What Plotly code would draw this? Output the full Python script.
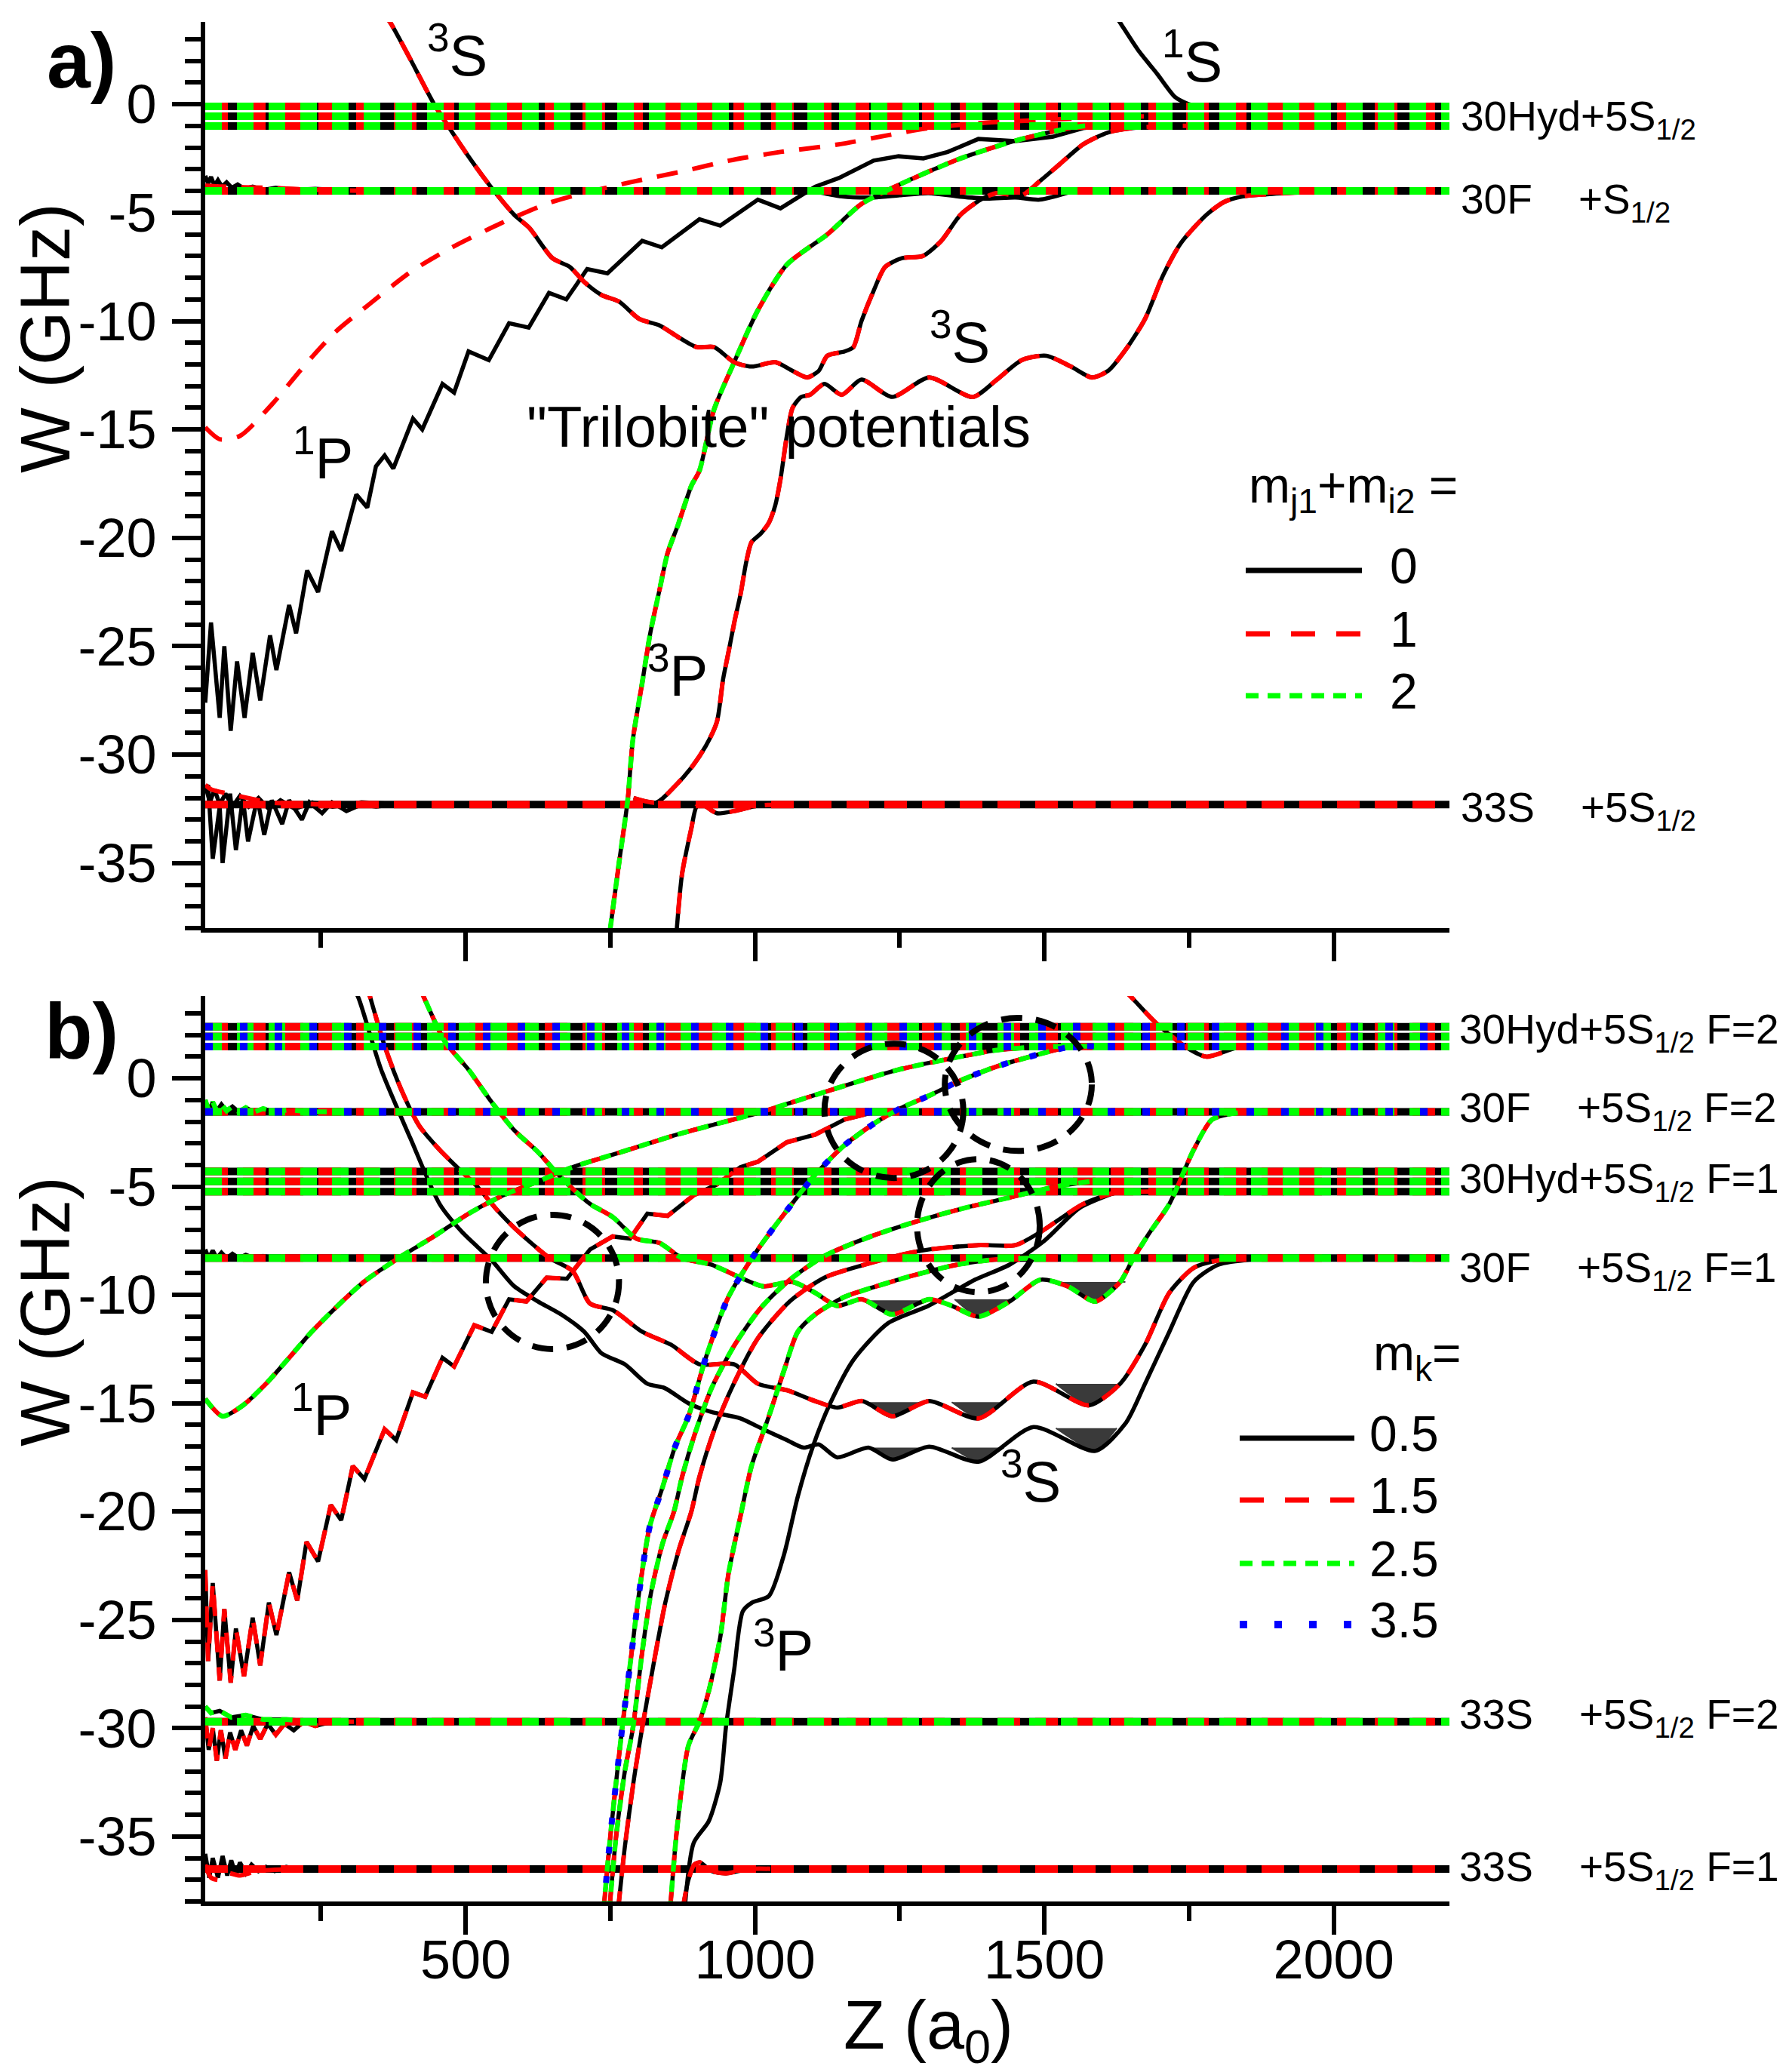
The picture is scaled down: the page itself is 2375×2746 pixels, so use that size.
import plotly.graph_objects as go

# ------------------------------------------------------------------ data
z_range = [50, 2200]
w_range = [-38, 3.8]
z_ticks = [500, 1000, 1500, 2000]
z_tick_text = ["500", "1000", "1500", "2000"]
w_ticks = [-35, -30, -25, -20, -15, -10, -5, 0]
w_tick_text = ["-35", "-30", "-25", "-20", "-15", "-10", "-5", "0"]

a_m_values = [0, 1, 2]                # m_j1 + m_i2
b_m_values = [0.5, 1.5, 2.5, 3.5]     # m_k

# ---- panel a : asymptotic levels
a_levels = [-0.1, -0.55, -1.0, -4.0, -32.3]
a_levels_m = [[0, 1, 2], [0, 1, 2], [0, 1, 2], [0, 1, 2], [0, 1]]
a_state_text = ["30Hyd+5S<sub>1/2</sub>", "30F\u00a0\u00a0\u00a0\u00a0+S<sub>1/2</sub>",
                "33S\u00a0\u00a0\u00a0\u00a0+5S<sub>1/2</sub>"]

# ---- panel a : potential curves
a_3S_z = [355, 370, 405, 445, 475, 510, 545, 584, 610, 650, 680, 705, 735, 765, 800, 835, 865,
          899, 929, 964, 994, 1035, 1065, 1090, 1110, 1125, 1155, 1170, 1184, 1205, 1225, 1254,
          1290, 1322, 1355, 1390, 1417, 1461, 1492, 1525, 1567, 1610, 1652, 1726, 1800]
a_3S_w = [4.3, 3.76, 2.05, 0.03, -1.22, -2.6, -3.86, -5.1, -5.7, -7.1, -7.5, -8.2, -8.8, -9.1,
          -9.9, -10.2, -10.7, -11.2, -11.2, -11.9, -12.1, -11.9, -12.3, -12.6, -12.3, -11.6,
          -11.4, -11.2, -10.0, -8.6, -7.5, -7.1, -7.0, -6.3, -5.1, -4.4, -4.1, -4.2, -3.55, -2.8,
          -1.85, -1.3, -1.1, -1.0, -1.0]
a_3S_m = [0, 1]

a_1P_z = [50, 60, 75, 83, 94, 105, 118, 132, 145, 162, 173, 195, 207, 226, 245, 269, 285, 311,
          330, 345, 360, 375, 409, 425, 460, 480, 505, 540, 575, 609, 644, 674, 710, 745, 805,
          839, 904, 940, 1005, 1044, 1104, 1145, 1205, 1248, 1291, 1333, 1386, 1450, 1514, 1567,
          1620, 1680]
a_1P_w = [-27.6, -23.9, -28.3, -25.0, -28.9, -25.7, -28.3, -25.3, -27.5, -24.5, -26.1, -23.1,
          -24.4, -21.5, -22.5, -19.7, -20.6, -18.0, -18.6, -16.7, -16.2, -16.8, -14.5, -15.0,
          -12.9, -13.3, -11.4, -11.8, -10.1, -10.3, -8.7, -9.0, -7.6, -7.8, -6.3, -6.6, -5.3,
          -5.6, -4.4, -4.8, -3.8, -3.4, -2.6, -2.4, -2.5, -2.2, -1.6, -1.7, -1.5, -1.1, -0.95,
          -1.0]
a_1P_m = [0]

a_free_z = [50, 75, 110, 165, 220, 275, 335, 405, 475, 560, 644, 704, 784, 874, 955, 1044, 1145,
            1225, 1300, 1400, 1500, 1600, 1700]
a_free_w = [-14.9, -15.45, -15.3, -13.85, -12.1, -10.5, -9.19, -7.73, -6.62, -5.5, -4.55, -4.1,
            -3.6, -3.1, -2.6, -2.2, -1.85, -1.45, -1.1, -0.85, -0.72, -0.6, -0.55]
a_free_m = [1]

a_3P_z = [745, 750, 765, 780, 789, 805, 819, 835, 849, 867, 890, 904, 929, 964, 1005, 1055, 1125,
          1184, 1250, 1355, 1461, 1567, 1620]
a_3P_w = [-39, -38, -35.0, -32.1, -29.3, -26.7, -24.4, -22.4, -20.7, -19.4, -17.6, -16.9, -14.1,
          -11.9, -9.5, -7.4, -6.0, -4.6, -3.7, -2.5, -1.6, -1.0, -1.0]
a_3P_m = [0, 1, 2]

a_3Plow_z = [862, 874, 890, 899, 909, 934, 964, 1005, 1050]
a_3Plow_w = [-39, -35.5, -33.4, -32.4, -32.3, -32.7, -32.6, -32.35, -32.3]
a_3Plow_m = [0, 1]

a_low_z = [790, 830, 860, 890, 915, 934, 945, 954, 965, 975, 985, 994, 1010, 1024, 1035, 1044,
           1055, 1065, 1080, 1095, 1120, 1150, 1184, 1237, 1301, 1376, 1418, 1461, 1503, 1546,
           1582, 1610, 1641, 1674, 1705, 1736, 1780, 1811, 1843, 1885, 1950]
a_low_w = [-32.0, -32.2, -31.5, -30.6, -29.6, -28.5, -26.5, -25.3, -23.8, -22.6, -21.1, -20.2,
           -19.8, -19.3, -18.5, -17.3, -15.3, -14.0, -13.5, -13.4, -12.9, -13.4, -12.7, -13.5,
           -12.6, -13.5, -12.7, -11.8, -11.6, -12.1, -12.6, -12.3, -11.3, -9.9, -7.9, -6.4,
           -5.1, -4.5, -4.25, -4.15, -4.05]
a_low_m = [0, 1]

a_1S_z = [1620, 1631, 1662, 1695, 1726, 1747, 1765]
a_1S_w = [4.2, 3.76, 2.5, 1.4, 0.33, 0.03, -0.1]
a_1S_m = [0]

a_33Sosc_z = [50, 55, 63, 75, 80, 93, 103, 115, 124, 140, 152, 165, 183, 195, 217, 230, 252, 269,
              294, 320, 345, 380, 420]
a_33Sosc_w = [-31.6, -31.4, -34.8, -32.4, -35.0, -31.8, -34.4, -32.0, -34.0, -32.0, -33.7,
              -32.1, -33.2, -32.1, -33.0, -32.2, -32.7, -32.2, -32.6, -32.3, -32.4, -32.3, -32.3]
a_33Sosc_m = [0]

a_33Sup_z = [50, 58, 66, 75, 85, 97, 110, 125, 142, 160, 180, 205, 235, 270, 320, 400]
a_33Sup_w = [-31.4, -32.2, -31.6, -32.3, -31.8, -32.4, -31.9, -32.4, -32.0, -32.5, -32.1, -32.5,
             -32.2, -32.4, -32.2, -32.3]
a_33Sup_m = [0]

a_33Sred_z = [50, 60, 90, 124, 160, 205, 260]
a_33Sred_w = [-31.4, -31.6, -31.8, -32.0, -32.2, -32.25, -32.3]
a_33Sred_m = [1]

a_30Fosc_z = [50, 55, 60, 66, 72, 79, 87, 96, 106, 118, 132, 150, 172, 200, 240, 300, 380, 480, 560]
a_30Fosc_w = [-3.3, -3.65, -3.35, -3.75, -3.5, -3.8, -3.6, -3.85, -3.7, -3.9, -3.8, -3.95, -3.85,
              -3.95, -3.9, -3.98, -3.92, -3.97, -4.0]
a_30Fosc_m = [0]

a_30Fred_z = [50, 80, 150, 250, 350]
a_30Fred_w = [-3.75, -3.8, -3.85, -3.95, -4.0]
a_30Fred_m = [1]

a_30Fdip_z = [1100, 1150, 1206, 1250, 1300, 1350, 1400, 1450, 1492, 1550]
a_30Fdip_w = [-4.0, -4.25, -4.3, -4.2, -4.1, -4.25, -4.35, -4.3, -4.4, -4.0]
a_30Fdip_m = [0]

# ---- panel b : asymptotic levels
b_levels = [2.38, 1.93, 1.47, -1.55, -4.30, -4.76, -5.23, -8.3, -29.7, -36.5]
b_levels_m = [[0.5, 1.5, 2.5, 3.5]] * 4 + [[0.5, 1.5, 2.5]] * 5 + [[0.5, 1.5]]
b_state_text = ["30Hyd+5S<sub>1/2</sub> F=2", "30F\u00a0\u00a0\u00a0\u00a0+5S<sub>1/2</sub> F=2",
                "30Hyd+5S<sub>1/2</sub> F=1", "30F\u00a0\u00a0\u00a0\u00a0+5S<sub>1/2</sub> F=1",
                "33S\u00a0\u00a0\u00a0\u00a0+5S<sub>1/2</sub> F=2",
                "33S\u00a0\u00a0\u00a0\u00a0+5S<sub>1/2</sub> F=1"]

# ---- panel b : potential curves
b_broad_z = [50, 80, 115, 155, 195, 234, 275, 324, 384, 445, 505, 565, 625, 685, 745, 805, 865,
             934, 1005, 1065, 1124, 1184, 1248, 1355, 1418, 1500, 1560]
b_broad_w = [-14.8, -15.6, -15.1, -14.1, -12.9, -11.7, -10.6, -9.4, -8.3, -7.3, -6.25, -5.4,
             -4.76, -4.1, -3.6, -3.1, -2.6, -2.1, -1.6, -1.1, -0.6, -0.1, 0.4, 1.0, 1.3, 1.47, 1.47]
b_broad_m = [0.5, 1.5, 2.5]

b_desc_z = [415, 425, 464, 505, 545, 584, 625, 655, 685, 715, 754, 795, 835, 874, 924, 975, 1014,
            1065, 1104, 1142, 1185, 1237, 1301, 1340, 1386, 1440, 1493, 1540, 1588, 1631, 1652,
            1680, 1716, 1758, 1790, 1832, 1880]
b_desc_w = [4.4, 3.9, 1.7, 0.4, -1.1, -2.4, -3.4, -4.3, -5.1, -5.8, -6.4, -7.4, -7.6, -8.3, -8.6,
            -9.2, -9.6, -9.4, -9.9, -10.5, -10.2, -10.9, -10.2, -10.5, -11.0, -10.3, -9.3, -9.6,
            -10.3, -9.4, -8.4, -7.2, -5.8, -3.3, -1.9, -1.6, -1.55]
b_desc_m = [0.5, 1.5, 2.5]

b_low_z = [300, 315, 354, 405, 455, 494, 545, 584, 625, 665, 705, 735, 775, 814, 844, 885, 924,
           975, 1014, 1055, 1084, 1110, 1142, 1196, 1237, 1301, 1386, 1481, 1588, 1641, 1674,
           1716, 1758, 1801, 1864, 1920]
b_low_w = [4.5, 3.7, 0.4, -2.8, -5.8, -7.1, -8.4, -9.6, -10.3, -10.9, -11.7, -12.7, -13.2, -14.1,
           -14.3, -15.0, -15.4, -15.7, -16.2, -16.7, -17.05, -16.9, -17.5, -17.05, -17.6, -17.0,
           -17.7, -16.1, -17.2, -15.9, -14.1, -11.7, -9.4, -8.6, -8.35, -8.3]
b_low_m = [0.5]

b_mid_z = [325, 330, 360, 390, 420, 455, 485, 520, 555, 584, 645, 685, 715, 754, 805, 855, 904,
           964, 1005, 1055, 1104, 1142, 1185, 1237, 1301, 1386, 1481, 1577, 1631, 1674, 1716,
           1758, 1801, 1850]
b_mid_w = [4.6, 4.2, 1.5, -0.6, -2.2, -3.3, -4.1, -5.0, -6.1, -6.9, -8.3, -8.9, -10.4, -10.7,
           -11.7, -12.3, -13.2, -13.2, -14.1, -14.4, -14.9, -15.2, -14.9, -15.6, -14.9, -15.7,
           -14.0, -15.1, -14.1, -12.3, -9.9, -8.75, -8.4, -8.3]
b_mid_m = [0.5, 1.5]

b_1P_z = [50, 55, 63, 75, 83, 94, 103, 117, 132, 145, 160, 173, 195, 209, 225, 245, 267, 285, 305,
          325, 360, 380, 409, 430, 460, 480, 515, 545, 575, 605, 640, 675, 715, 754, 784, 814,
          849, 894, 934, 975, 1005, 1055, 1104, 1155, 1200, 1250]
b_1P_w = [-22.7, -26.9, -23.3, -27.8, -24.5, -27.9, -25.4, -27.6, -24.9, -27.1, -24.2, -25.7,
          -22.8, -24.1, -21.4, -22.3, -19.7, -20.4, -17.9, -18.5, -16.2, -16.7, -14.5, -14.7,
          -12.9, -13.3, -11.4, -11.7, -10.2, -10.3, -9.2, -9.25, -7.9, -7.3, -7.4, -6.25, -6.35,
          -5.4, -4.9, -4.1, -3.85, -2.95, -2.6, -1.9, -1.6, -1.55]
b_1P_m = [0.5, 1.5]

b_P1_z = [738, 750, 770, 785, 800, 818, 840, 862, 885, 915, 954, 1005, 1055, 1104, 1154, 1205,
          1250, 1301, 1355, 1418, 1481, 1546, 1600]
b_P1_w = [-38.5, -35.0, -30.1, -26.9, -23.7, -20.7, -18.9, -17.0, -15.6, -12.9, -10.1, -7.9, -6.1,
          -4.45, -3.1, -2.1, -1.4, -0.8, -0.1, 0.55, 1.04, 1.46, 1.47]
b_P1_m = [0.5, 1.5, 2.5, 3.5]

b_P2_z = [748, 760, 775, 789, 805, 820, 840, 860, 874, 895, 925, 965, 1010, 1060, 1120, 1200,
          1280, 1360, 1440, 1520, 1580]
b_P2_w = [-38.5, -35.0, -32.0, -30.0, -26.5, -23.8, -21.5, -20.0, -18.4, -16.5, -14.3, -12.3,
          -10.6, -9.3, -8.2, -7.3, -6.6, -6.0, -5.5, -5.0, -4.76]
b_P2_m = [0.5, 1.5, 2.5]

b_P3_z = [763, 775, 790, 805, 825, 845, 868, 890, 904, 930, 965, 1005, 1060, 1120, 1190, 1260,
          1301, 1386, 1450, 1493, 1567, 1620, 1680]
b_P3_w = [-38.5, -35.5, -32.5, -30.0, -27.0, -24.2, -21.8, -20.0, -18.4, -16.2, -14.0, -12.0,
          -10.3, -9.2, -8.6, -8.1, -7.9, -7.7, -7.7, -7.1, -5.8, -5.3, -5.23]
b_P3_m = [0.5, 1.5]

b_P4_z = [853, 865, 885, 904, 920, 940, 954, 975, 994, 1024, 1050, 1074, 1104, 1154, 1210, 1273,
          1350, 1420, 1480]
b_P4_w = [-38.5, -34.7, -30.8, -29.7, -28.3, -25.8, -22.9, -20.2, -17.9, -15.6, -13.5, -11.7,
          -10.9, -10.1, -9.6, -9.1, -8.6, -8.35, -8.3]
b_P4_m = [0.5, 1.5, 2.5]

b_P6_z = [878, 894, 920, 940, 950, 964, 979, 995, 1024, 1050, 1074, 1100, 1130, 1170, 1230, 1300,
          1380, 1440, 1500, 1560, 1620]
b_P6_w = [-38.5, -35.3, -34.3, -32.5, -29.9, -27.3, -24.6, -24.2, -23.9, -22.0, -19.3, -17.0,
          -15.0, -13.0, -11.3, -10.5, -9.3, -8.6, -7.5, -6.0, -5.3]
b_P6_m = [0.5]

b_join_z = [874, 885, 895, 905, 925, 950, 990, 1040]
b_join_w = [-38.5, -37.0, -36.3, -36.2, -36.6, -36.7, -36.5, -36.5]
b_join_m = [0.5, 1.5]

b_1S_z = [1630, 1652, 1695, 1747, 1780, 1832, 1885, 1940]
b_1S_w = [4.3, 3.7, 2.5, 1.4, 1.0, 1.4, 1.5, 1.47]
b_1S_m = [0.5, 1.5]

b_30F2osc_z = [50, 56, 63, 70, 78, 87, 97, 108, 120, 135, 150, 170, 195, 230, 280]
b_30F2osc_w = [-1.0, -1.5, -1.1, -1.5, -1.2, -1.5, -1.3, -1.55, -1.35, -1.55, -1.4, -1.55, -1.45,
               -1.55, -1.55]
b_30F2osc_m = [0.5, 2.5]

b_30F1osc_z = [50, 56, 63, 70, 78, 87, 97, 108, 120, 135, 150, 170, 200]
b_30F1osc_w = [-7.9, -8.3, -7.95, -8.3, -8.05, -8.3, -8.1, -8.3, -8.15, -8.3, -8.2, -8.3, -8.3]
b_30F1osc_m = [0.5]

b_33S2osc_z = [50, 56, 63, 70, 77, 85, 93, 102, 112, 122, 133, 145, 158, 172, 187, 203, 220, 240,
               270, 320]
b_33S2osc_w = [-29.5, -31.0, -30.0, -31.5, -30.1, -31.4, -30.2, -31.0, -30.1, -30.8, -29.9,
               -30.5, -29.8, -30.3, -29.8, -30.1, -29.7, -29.9, -29.7, -29.7]
b_33S2osc_m = [0.5, 1.5]

b_33S2up_z = [50, 60, 75, 95, 120, 150, 190, 240]
b_33S2up_w = [-29.0, -29.3, -29.2, -29.5, -29.4, -29.6, -29.6, -29.7]
b_33S2up_m = [0.5, 2.5]

b_33S1osc_z = [50, 57, 63, 72, 80, 88, 95, 103, 110, 120, 130, 142, 155, 170, 190, 215, 250, 300]
b_33S1osc_w = [-35.8, -36.9, -36.0, -36.9, -35.9, -36.8, -36.1, -36.8, -36.2, -36.7, -36.3,
               -36.6, -36.4, -36.6, -36.4, -36.55, -36.45, -36.5]
b_33S1osc_m = [0.5]

b_33S1red_z = [50, 60, 75, 90, 110, 140, 200]
b_33S1red_w = [-36.3, -36.9, -37.0, -36.7, -36.8, -36.6, -36.5]
b_33S1red_m = [1.5]

# shaded bound-state regions inside the 3S wells (panel b)
b_well_curve = ["desc", "desc", "desc", "mid", "mid", "mid", "low", "low", "low"]
b_well_z0 = [1190, 1345, 1530, 1190, 1340, 1520, 1190, 1340, 1520]
b_well_z1 = [1290, 1440, 1640, 1285, 1432, 1630, 1290, 1430, 1625]
b_well_top = [-10.25, -10.2, -9.4, -14.95, -14.95, -14.1, -17.05, -17.05, -16.15]

# dashed rings marking avoided crossings (panel b)
b_ring_z = [650, 1240, 1455, 1386]
b_ring_w = [-9.4, -1.5, -0.28, -6.8]
b_ring_dz = [115, 120, 127, 106]
b_ring_dw = [3.1, 3.1, 3.07, 3.07]

# ------------------------------------------------------------------ styling
FONT = "Liberation Sans, Arial, Helvetica, sans-serif"
L, RGT, TOP, BOT = 264, 1913, 21, 2512
W, H = 2375, 2746


def px(X):
    return (X - L) / (RGT - L)


def py(Y):
    return (BOT - Y) / (BOT - TOP)


A_STYLE = {0: ("#000000", None, 5.5), 1: ("#FF0000", "28px,20px", 6), 2: ("#00FF00", "15px,12px", 6.5)}
B_STYLE = {0.5: ("#000000", None, 5.5), 1.5: ("#FF0000", "28px,20px", 6),
           2.5: ("#00FF00", "15px,12px", 6.5), 3.5: ("#0000FF", "9px,30px", 8)}
LEV_DASH = {"#000000": None, "#FF0000": "30px,20px", "#00FF00": "22px,20px", "#0000FF": "10px,36px"}

A_CURVES = [(a_free_z, a_free_w, a_free_m, "spline"), (a_3S_z, a_3S_w, a_3S_m, "spline"),
            (a_1P_z, a_1P_w, a_1P_m, "linear"), (a_3P_z, a_3P_w, a_3P_m, "spline"),
            (a_3Plow_z, a_3Plow_w, a_3Plow_m, "spline"), (a_low_z, a_low_w, a_low_m, "spline"),
            (a_1S_z, a_1S_w, a_1S_m, "spline"), (a_33Sosc_z, a_33Sosc_w, a_33Sosc_m, "linear"),
            (a_33Sup_z, a_33Sup_w, a_33Sup_m, "linear"), (a_33Sred_z, a_33Sred_w, a_33Sred_m, "spline"),
            (a_30Fosc_z, a_30Fosc_w, a_30Fosc_m, "linear"), (a_30Fred_z, a_30Fred_w, a_30Fred_m, "spline"),
            (a_30Fdip_z, a_30Fdip_w, a_30Fdip_m, "spline")]

B_NAMED = {"desc": (b_desc_z, b_desc_w), "mid": (b_mid_z, b_mid_w), "low": (b_low_z, b_low_w)}
B_CURVES = [(b_broad_z, b_broad_w, b_broad_m, "spline"), (b_desc_z, b_desc_w, b_desc_m, "spline"),
            (b_low_z, b_low_w, b_low_m, "spline"), (b_mid_z, b_mid_w, b_mid_m, "spline"),
            (b_1P_z, b_1P_w, b_1P_m, "linear"), (b_P1_z, b_P1_w, b_P1_m, "spline"),
            (b_P2_z, b_P2_w, b_P2_m, "spline"), (b_P3_z, b_P3_w, b_P3_m, "spline"),
            (b_P4_z, b_P4_w, b_P4_m, "spline"), (b_P6_z, b_P6_w, b_P6_m, "spline"),
            (b_join_z, b_join_w, b_join_m, "spline"), (b_1S_z, b_1S_w, b_1S_m, "spline"),
            (b_30F2osc_z, b_30F2osc_w, b_30F2osc_m, "linear"),
            (b_30F1osc_z, b_30F1osc_w, b_30F1osc_m, "linear"),
            (b_33S2osc_z, b_33S2osc_w, b_33S2osc_m, "linear"),
            (b_33S2up_z, b_33S2up_w, b_33S2up_m, "linear"),
            (b_33S1osc_z, b_33S1osc_w, b_33S1osc_m, "linear"),
            (b_33S1red_z, b_33S1red_w, b_33S1red_m, "spline")]

fig = go.Figure()


def add_line(xs, ys, color, dash, width, shape, xa, ya):
    line = dict(color=color, width=width, shape=shape)
    if shape == "spline":
        line["smoothing"] = 0.7
    if dash:
        line["dash"] = dash
    fig.add_trace(go.Scatter(x=xs, y=ys, mode="lines", line=line, xaxis=xa, yaxis=ya,
                             showlegend=False, hoverinfo="skip"))


# shaded wells first (below the curves)
for cname, z0, z1, top in zip(b_well_curve, b_well_z0, b_well_z1, b_well_top):
    cz, cw = B_NAMED[cname]
    inside = [(z, w) for z, w in zip(cz, cw) if z0 < z < z1]
    xs = [z0] + [p[0] for p in inside] + [z1]
    ys = [top] + [p[1] for p in inside] + [top]
    fig.add_trace(go.Scatter(x=xs, y=ys, mode="lines", fill="toself", fillcolor="#3a3a3a",
                             line=dict(width=2, color="#3a3a3a", shape="spline", smoothing=0.5),
                             xaxis="x2", yaxis="y2", showlegend=False, hoverinfo="skip"))

# panel a
for m in a_m_values:
    color, dash, width = A_STYLE[m]
    for lev, ms in zip(a_levels, a_levels_m):
        if m in ms:
            add_line(z_range, [lev, lev], color, LEV_DASH[color], 10, "linear", "x", "y")
    for zs, ws, ms, shape in A_CURVES:
        if m in ms:
            add_line(zs, ws, color, dash, width, shape, "x", "y")

# panel b
for m in b_m_values:
    color, dash, width = B_STYLE[m]
    for lev, ms in zip(b_levels, b_levels_m):
        if m in ms:
            add_line(z_range, [lev, lev], color, LEV_DASH[color], 10, "linear", "x2", "y2")
    for zs, ws, ms, shape in B_CURVES:
        if m in ms:
            add_line(zs, ws, color, dash, width, shape, "x2", "y2")

# ------------------------------------------------------------------ axes
dom_a = [py(1222), 1.0]
dom_b = [0.0, py(1312)]

axis_common = dict(showline=True, linewidth=6, linecolor="black", ticks="outside", ticklen=38,
                   tickwidth=6, tickcolor="black", showgrid=False, zeroline=False,
                   tickfont=dict(family=FONT, size=72, color="black"))
xcommon = dict(axis_common, range=z_range, tickmode="array", tickvals=z_ticks, ticktext=z_tick_text,
               minor=dict(ticks="outside", ticklen=20, tickwidth=6, tickcolor="black",
                          dtick=250, tick0=0, showgrid=False),
               ticklabelstandoff=-28)
ycommon = dict(axis_common, range=w_range, tickmode="array", tickvals=w_ticks, ticktext=w_tick_text,
               minor=dict(ticks="outside", ticklen=21, tickwidth=6, tickcolor="black",
                          dtick=1, tick0=0, showgrid=False),
               ticklabelstandoff=6)

fig.update_layout(
    width=W, height=H,
    margin=dict(l=L, r=W - RGT, t=TOP, b=H - BOT),
    paper_bgcolor="white", plot_bgcolor="white",
    font=dict(family=FONT, color="black"),
    xaxis=dict(xcommon, domain=[0, 1], anchor="y", showticklabels=False),
    yaxis=dict(ycommon, domain=dom_a, anchor="x"),
    xaxis2=dict(xcommon, domain=[0, 1], anchor="y2", showticklabels=True),
    yaxis2=dict(ycommon, domain=dom_b, anchor="x2"),
)

# ------------------------------------------------------------------ text
ann = []


def txt(text, X, Y, size, xanchor="center", yanchor="middle", angle=0, bold=False):
    if bold:
        text = "<b>" + text + "</b>"
    ann.append(dict(text=text, x=px(X), y=py(Y), xref="paper", yref="paper", showarrow=False,
                    xanchor=xanchor, yanchor=yanchor, textangle=angle,
                    font=dict(family=FONT, size=size, color="black")))


txt("a)", 100, 72, 104, bold=True)
txt("b)", 100, 1358, 104, bold=True)
txt("W (GHz)", 52, 440, 92, angle=-90)
txt("W (GHz)", 52, 1730, 92, angle=-90)
txt("Z (a<sub>0</sub>)", 1222, 2682, 90)

# curve labels
txt("<sup>3</sup>S", 598, 60, 76)
txt("<sup>1</sup>S", 1572, 68, 76)
txt("<sup>3</sup>S", 1264, 440, 76)
txt("<sup>1</sup>P", 420, 594, 76)
txt("\"Trilobite\" potentials", 1024, 557, 76)
txt("<sup>3</sup>P", 890, 882, 76)
txt("<sup>1</sup>P", 418, 1862, 76)
txt("<sup>3</sup>S", 1358, 1950, 76)
txt("<sup>3</sup>P", 1030, 2174, 76)

# asymptote labels
for t, Y in zip(a_state_text, [150, 260, 1066]):
    txt(t, 1926, Y, 55, xanchor="left")
for t, Y in zip(b_state_text, [1360, 1464, 1558, 1676, 2268, 2470]):
    txt(t, 1924, Y, 55, xanchor="left")

# legends (drawn as shapes + text)
shapes = []
a_leg_y = [748, 832, 914]
for m, Y in zip(a_m_values, a_leg_y):
    color, dash, width = A_STYLE[m]
    ln = dict(color=color, width=7)
    if dash:
        ln["dash"] = {"#FF0000": "32px,28px", "#00FF00": "17px,12px"}[color]
    shapes.append(dict(type="line", xref="paper", yref="paper", x0=px(1643), x1=px(1797),
                       y0=py(Y), y1=py(Y), line=ln))
    txt(str(m), 1832, Y - 6, 66, xanchor="left")
txt("m<sub>j1</sub>+m<sub>i2</sub> =", 1645, 640, 66, xanchor="left")

b_leg_y = [1898, 1980, 2064, 2145]
for m, Y in zip(b_m_values, b_leg_y):
    color, dash, width = B_STYLE[m]
    ln = dict(color=color, width=7 if color != "#0000FF" else 10)
    if dash:
        ln["dash"] = {"#FF0000": "32px,28px", "#00FF00": "17px,12px", "#0000FF": "10px,36px"}[color]
    shapes.append(dict(type="line", xref="paper", yref="paper", x0=px(1635), x1=px(1787),
                       y0=py(Y), y1=py(Y), line=ln))
    txt(str(m), 1805, Y - 6, 66, xanchor="left")
txt("m<sub>k</sub>=", 1810, 1790, 66, xanchor="left")

# dashed rings
for cz, cw, dz, dw in zip(b_ring_z, b_ring_w, b_ring_dz, b_ring_dw):
    shapes.append(dict(type="circle", xref="x2", yref="y2", x0=cz - dz, x1=cz + dz,
                       y0=cw - dw, y1=cw + dw, line=dict(color="black", width=8, dash="28px,18px")))

fig.update_layout(annotations=ann, shapes=shapes)
fig.write_html("out.html")
